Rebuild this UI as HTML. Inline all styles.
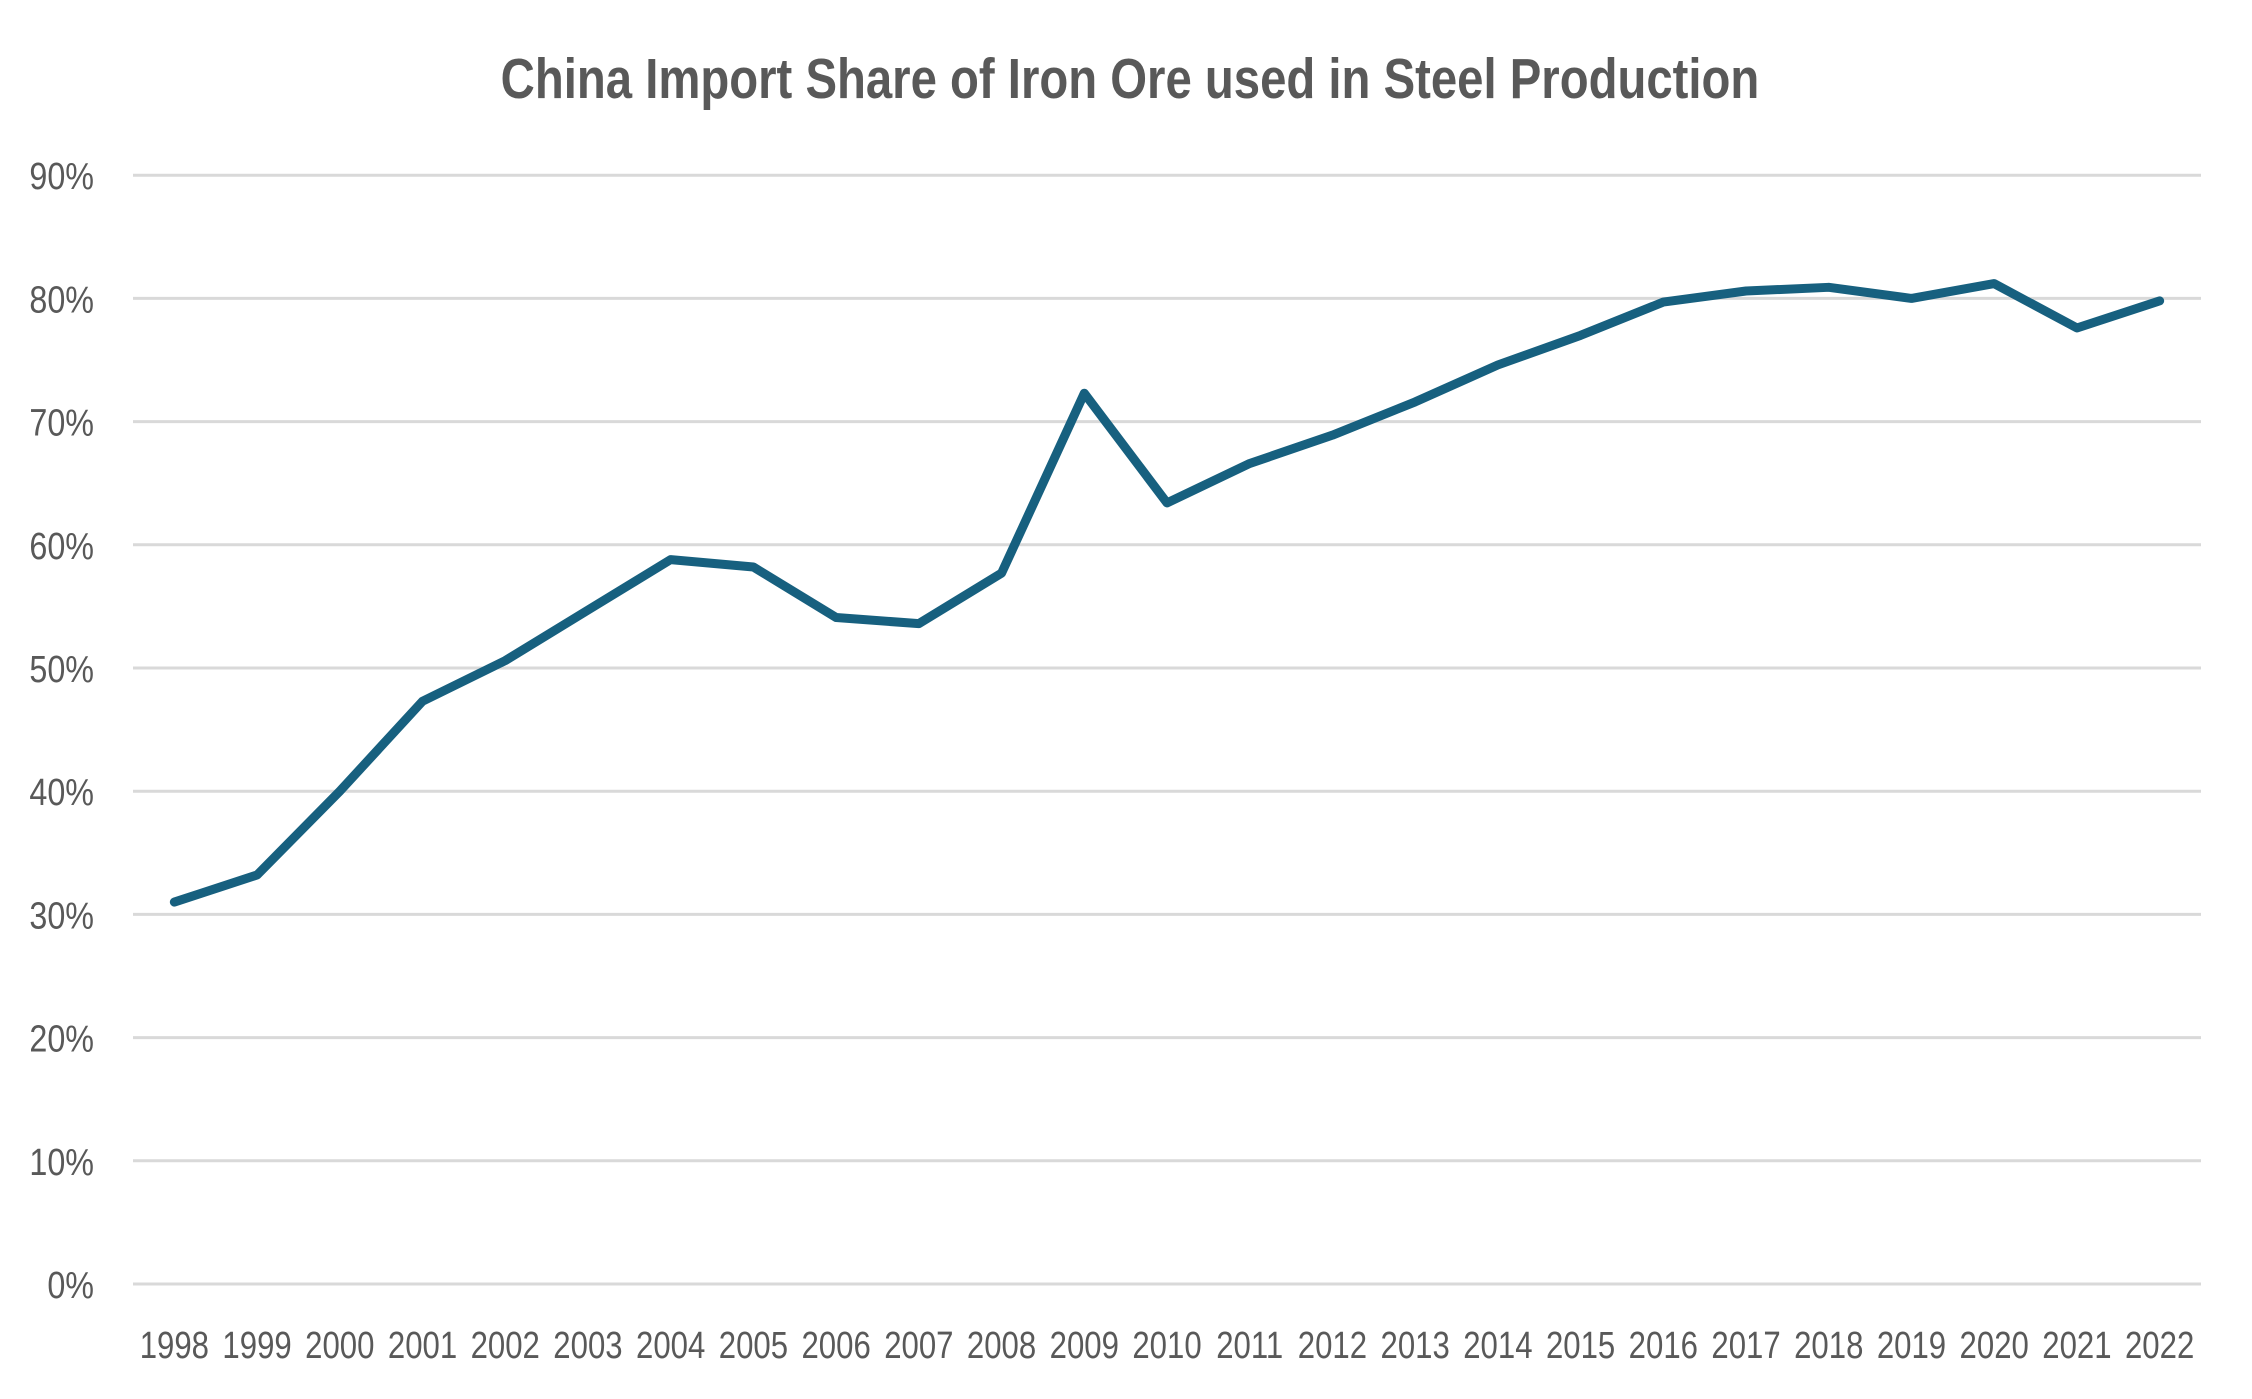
<!DOCTYPE html>
<html><head><meta charset="utf-8"><style>
html,body{margin:0;padding:0;background:#fff;}
svg text{font-family:"Liberation Sans Narrow","Liberation Sans",sans-serif;fill:#595959;}
</style></head><body>
<svg id="chart" width="2252" height="1394" xmlns="http://www.w3.org/2000/svg">
<text x="0" y="0" font-size="57" font-weight="bold" text-anchor="middle" transform="translate(1130,98) scale(0.83,1)">China Import Share of Iron Ore used in Steel Production</text>
<g id="grid"></g><g id="ylabels"></g><g id="xlabels"></g><g id="series"></g>
</svg>
<script>
const years=["1998","1999","2000","2001","2002","2003","2004","2005","2006","2007","2008","2009","2010","2011","2012","2013","2014","2015","2016","2017","2018","2019","2020","2021","2022"];
const shares=[31,33.2,40,47.3,50.6,54.7,58.8,58.2,54.1,53.6,57.7,72.3,63.4,66.6,68.9,71.6,74.6,77,79.7,80.6,80.9,80,81.2,77.6,79.8];
const yTicks=[0,10,20,30,40,50,60,70,80,90];
const NS="http://www.w3.org/2000/svg";
const L=133,R=2201,Y0=1284,PER=12.32;
const n=years.length,step=(R-L)/n;
const x=i=>L+step*(i+0.5);
const y=v=>Y0-v*PER;
const grid=document.getElementById('grid'),yl=document.getElementById('ylabels'),xl=document.getElementById('xlabels'),ser=document.getElementById('series');
yTicks.forEach(t=>{
  const ln=document.createElementNS(NS,'line');
  
  
  ln.setAttribute('x1',L);ln.setAttribute('x2',R);ln.setAttribute('y1',y(t));ln.setAttribute('y2',y(t));
  ln.setAttribute('stroke','#d9d9d9');ln.setAttribute('stroke-width','3');
  grid.appendChild(ln);
  const tx=document.createElementNS(NS,'text');
  
  
  tx.setAttribute('text-anchor','end');tx.setAttribute('font-size','38');
  tx.setAttribute('transform','translate(94,'+(y(t)+14)+') scale(0.85,1)');
  tx.textContent=t+'%';
  yl.appendChild(tx);
});
years.forEach((yr,i)=>{
  const tx=document.createElementNS(NS,'text');
  
  
  tx.setAttribute('text-anchor','middle');tx.setAttribute('font-size','38');
  tx.setAttribute('transform','translate('+x(i)+',1358) scale(0.82,1)');
  tx.textContent=yr;
  xl.appendChild(tx);
});
const p=document.createElementNS(NS,'polyline');


p.setAttribute('points',shares.map((v,i)=>x(i)+','+y(v)).join(' '));
p.setAttribute('fill','none');p.setAttribute('stroke','#17607f');p.setAttribute('stroke-width','9');
p.setAttribute('stroke-linecap','round');p.setAttribute('stroke-linejoin','round');
ser.appendChild(p);
</script>
</body></html>
